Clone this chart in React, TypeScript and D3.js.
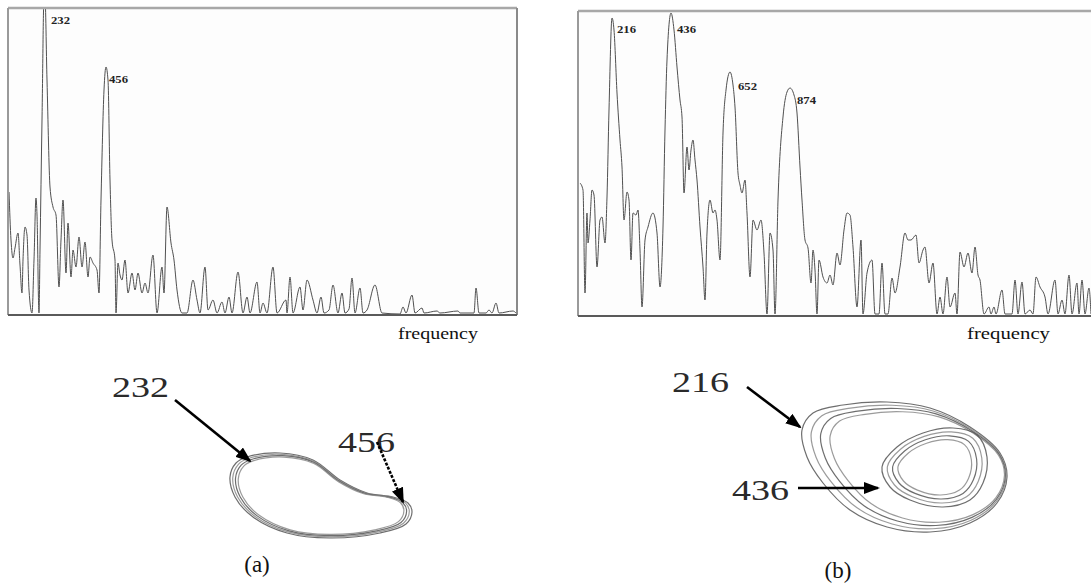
import React from 'react';
import * as d3 from 'd3';

// spectrum (a): [bin, amplitude]
const spectrumA: [number, number][] = [
  [0, 122], [2, 74], [4, 56], [6, 66], [9, 81], [11, 49], [13, 21], [14, 54], [16, 87], [18, 79],
  [20, 24], [23, 1], [25, 54], [27, 116], [28, 99], [30, 1], [31, 64], [33, 194], [35, 315], [36, 315],
  [38, 234], [41, 127], [44, 107], [47, 99], [50, 27], [52, 74], [54, 114], [57, 41], [59, 91], [62, 37],
  [64, 64], [67, 47], [70, 77], [73, 47], [76, 72], [79, 37], [81, 57], [84, 51], [88, 44], [90, 21],
  [92, 114], [95, 224], [97, 247], [99, 234], [101, 134], [103, 74], [106, 54], [107, 1], [109, 51], [111, 39],
  [113, 34], [116, 54], [119, 21], [123, 41], [126, 24], [129, 41], [133, 21], [136, 31], [139, 21], [144, 59],
  [148, 1], [153, 47], [155, 21], [158, 107], [162, 71], [165, 54], [168, 24], [173, 1], [178, 1], [184, 34],
  [188, 14], [191, 1], [196, 47], [199, 4], [204, 14], [208, 1], [213, 12], [216, 1], [220, 17], [223, 1],
  [229, 42], [234, 1], [238, 17], [241, 1], [248, 32], [251, 1], [254, 11], [258, 1], [264, 47], [268, 1],
  [277, 14], [278, 1], [281, 37], [284, 1], [291, 27], [294, 4], [298, 34], [304, 14], [308, 1], [312, 17],
  [315, 1], [320, 4], [324, 29], [329, 1], [333, 21], [336, 1], [340, 5], [343, 36], [346, 1], [351, 26],
  [354, 1], [358, 4], [366, 29], [373, 1], [391, 0], [394, 7], [397, 1], [403, 19], [406, 1], [413, 6],
  [415, 1], [428, 3], [431, 1], [449, 3], [451, 1], [465, 1], [467, 26], [470, 1], [477, 1], [480, 4],
  [483, 1], [487, 11], [490, 1], [504, 3], [507, 1],
];

// spectrum (b): [bin, amplitude]
const spectrumB: [number, number][] = [
  [1, 132], [4, 125], [6, 22], [8, 102], [9, 72], [11, 95], [13, 125], [15, 120], [18, 48], [21, 95],
  [23, 98], [26, 72], [28, 118], [30, 205], [33, 297], [35, 285], [38, 222], [41, 175], [43, 148], [45, 95],
  [48, 123], [50, 115], [52, 55], [54, 102], [57, 100], [59, 105], [61, 65], [63, 8], [66, 75], [69, 88],
  [74, 102], [78, 82], [81, 28], [84, 88], [86, 185], [88, 255], [92, 302], [95, 285], [98, 248], [101, 215],
  [103, 198], [105, 122], [108, 168], [110, 145], [112, 165], [114, 175], [116, 155], [118, 135], [121, 88], [124, 48],
  [126, 15], [128, 82], [131, 115], [134, 102], [136, 105], [138, 95], [141, 55], [144, 182], [147, 225], [151, 243],
  [154, 230], [156, 208], [159, 142], [161, 130], [163, 122], [166, 135], [168, 102], [171, 38], [174, 95], [178, 85],
  [182, 95], [185, 62], [188, 1], [191, 82], [194, 65], [196, 1], [199, 115], [204, 198], [208, 223], [211, 227],
  [215, 220], [218, 202], [221, 148], [223, 115], [226, 75], [229, 67], [232, 32], [234, 65], [236, 45], [238, 1],
  [240, 55], [244, 38], [248, 32], [251, 40], [254, 30], [258, 62], [261, 50], [265, 85], [268, 102], [271, 100],
  [274, 68], [278, 8], [282, 75], [284, 1], [288, 42], [293, 55], [296, 1], [300, 1], [303, 52], [306, 1],
  [309, 1], [313, 37], [316, 22], [321, 48], [326, 82], [329, 75], [332, 75], [337, 80], [340, 52], [344, 65],
  [346, 68], [350, 32], [354, 52], [358, 1], [361, 18], [364, 1], [368, 38], [371, 8], [376, 22], [378, 1],
  [381, 63], [385, 48], [389, 62], [393, 42], [396, 68], [399, 40], [401, 35], [405, 1], [410, 8], [412, 1],
  [415, 8], [417, 1], [423, 25], [426, 1], [433, 1], [436, 35], [439, 1], [443, 33], [446, 1], [451, 5],
  [454, 1], [457, 38], [461, 28], [466, 18], [469, 1], [476, 35], [479, 1], [483, 15], [486, 1], [490, 40],
  [493, 1], [498, 32], [500, 1], [503, 35], [506, 1], [510, 27], [512, 1],
];

// peak labels: text, bin, amplitude of label baseline
const peakLabelsA = ['232', '456'];
const peakBinsA = [42, 100];
const peakAmpsA = [290, 231];
const peakLabelsB = ['216', '436', '652', '874'];
const peakBinsB = [38, 98, 159, 218];
const peakAmpsB = [282, 282, 225, 211];

// phase portraits
const loopA: [number, number][] = [
  [-90, 18], [-84, 32], [-73, 38], [-40, 42], [-7, 35], [20, 15], [47, 2], [73, -2],
  [88, -8], [92, -17], [86, -29], [60, -38], [10, -43], [-33, -38], [-67, -22], [-85, -2],
];
const strandsA = [1, 0.97, 0.94, 0.91];
const loopBOuter: [number, number][] = [
  [-103, 37], [-92, 54], [-62, 62], [-18, 65], [25, 59], [65, 40], [95, 14], [102, -10],
  [92, -36], [65, -56], [25, -65], [-18, -60], [-55, -43], [-82, -16], [-98, 10],
];
const strandsBOuter = [1, 0.95, 0.9, 0.85];
const loopBInner: [number, number][] = [
  [-23, 0], [-8, 20], [18, 34], [48, 39], [72, 32], [82, 10], [78, -16], [65, -33],
  [38, -40], [5, -33], [-15, -20],
];
const strandsBInner = [1, 0.9, 0.8, 0.7];

// annotations: label, text start, arrow from, arrow to
const notesA = [
  { label: '232', at: [-208, 98], from: [-145, 95], to: [-70, 34], dash: '' },
  { label: '456', at: [18, 43], from: [57, 53], to: [83, -7], dash: '3,1.5' },
];
const notesB = [
  { label: '216', at: [-233, 75], from: [-158, 80], to: [-105, 40], dash: '' },
  { label: '436', at: [-173, -33], from: [-107, -21], to: [-27, -21], dash: '' },
];

const serif = '"Liberation Serif", "Times New Roman", serif';

function Spectrum({ data, x, y, labels, bins, amps, id, frame }) {
  const line = d3.line<[number, number]>().x(d => x(d[0])).y(d => y(d[1])).curve(d3.curveMonotoneX);
  const [x0, x1] = x.range();
  const [yb, yt] = y.range();
  return (
    <g>
      <clipPath id={id}>
        <rect x={x0 - 1} y={yt} width={x1 - x0 + 2} height={yb - yt + 1} />
      </clipPath>
      <rect x={frame[0]} y={frame[1]} width={frame[2] - frame[0]} height={frame[3] - frame[1]} fill="#fdfdfd" />
      <path d={line(data)} fill="none" stroke="#505050" strokeWidth={1} clipPath={`url(#${id})`} />
      <line x1={frame[0]} x2={frame[2]} y1={frame[1]} y2={frame[1]} stroke="#a8a8a8" strokeWidth={2.5} />
      <line x1={frame[0]} x2={frame[0]} y1={frame[1]} y2={frame[3]} stroke="#9a9a9a" strokeWidth={2} />
      <line x1={frame[2]} x2={frame[2]} y1={frame[1]} y2={frame[3]} stroke="#8a8a8a" strokeWidth={2} />
      <line x1={frame[0]} x2={frame[2]} y1={frame[3]} y2={frame[3]} stroke="#5a5a5a" strokeWidth={2} />
      {labels.map((t, i) => (
        <text key={t} x={x(bins[i])} y={y(amps[i])} fontFamily={serif} fontWeight="bold" fontSize={11}
          fill="#222" textLength={19} lengthAdjust="spacingAndGlyphs">{t}</text>
      ))}
    </g>
  );
}

function Portrait({ loops, x, y, notes, id }) {
  const line = d3.line<[number, number]>().x(d => x(d[0])).y(d => y(d[1])).curve(d3.curveCatmullRomClosed.alpha(0.5));
  return (
    <g>
      {loops.map((lp, j) =>
        lp.scales.map((s, i) => (
          <path key={`${j}-${i}`}
            d={line(lp.pts.map(p => [lp.anchor[0] + (p[0] - lp.anchor[0]) * s, lp.anchor[1] + (p[1] - lp.anchor[1]) * s] as [number, number]))}
            fill="none" stroke={i % 2 ? '#8a8a8a' : '#555'} strokeWidth={1.2} strokeOpacity={0.85} />
        ))
      )}
      {notes.map(n => (
        <g key={n.label}>
          <text x={x(n.at[0])} y={y(n.at[1])} fontFamily={serif} fontSize={29} fill="#2a2a2a"
            textLength={57} lengthAdjust="spacingAndGlyphs">{n.label}</text>
          <line x1={x(n.from[0])} y1={y(n.from[1])} x2={x(n.to[0])} y2={y(n.to[1])} stroke="#000"
            strokeWidth={2.6} strokeDasharray={n.dash || undefined} markerEnd={`url(#${id})`} />
        </g>
      ))}
    </g>
  );
}

export default function App() {
  const xA = d3.scaleLinear().domain([0, 507]).range([9, 516]);
  const yA = d3.scaleLinear().domain([0, 305]).range([314, 9]);
  const xB = d3.scaleLinear().domain([0, 512]).range([579, 1091]);
  const yB = d3.scaleLinear().domain([0, 303]).range([315, 12]);

  const pxA = d3.scaleLinear().domain([-100, 100]).range([220, 420]);
  const pyA = d3.scaleLinear().domain([-50, 50]).range([545, 445]);
  const pxB = d3.scaleLinear().domain([-110, 110]).range([795, 1015]);
  const pyB = d3.scaleLinear().domain([-70, 70]).range([537, 397]);

  return (
    <svg width={1091} height={586} style={{ position: 'absolute', left: 0, top: 0, background: '#fff' }}>
      <defs>
        <marker id="arrow" viewBox="0 0 16 12" refX={14} refY={6} markerWidth={16} markerHeight={12}
          orient="auto" markerUnits="userSpaceOnUse">
          <path d="M0,0 L16,6 L0,12 z" fill="#000" />
        </marker>
      </defs>
      <Spectrum data={spectrumA} x={xA} y={yA} labels={peakLabelsA} bins={peakBinsA} amps={peakAmpsA}
        id="clipA" frame={[8, 8, 517, 315]} />
      <Spectrum data={spectrumB} x={xB} y={yB} labels={peakLabelsB} bins={peakBinsB} amps={peakAmpsB}
        id="clipB" frame={[578, 11, 1100, 316]} />

      <text x={398} y={339} fontFamily={serif} fontSize={17} fill="#111" textLength={80} lengthAdjust="spacingAndGlyphs">frequency</text>
      <text x={967} y={339} fontFamily={serif} fontSize={17} fill="#111" textLength={83} lengthAdjust="spacingAndGlyphs">frequency</text>

      <Portrait x={pxA} y={pyA} id="arrow" notes={notesA}
        loops={[{ pts: loopA, scales: strandsA, anchor: [2, -3] }]} />
      <Portrait x={pxB} y={pyB} id="arrow" notes={notesB}
        loops={[
          { pts: loopBOuter, scales: strandsBOuter, anchor: [85, 0] },
          { pts: loopBInner, scales: strandsBInner, anchor: [30, 0] },
        ]} />

      <text x={257} y={572} textAnchor="middle" fontFamily={serif} fontSize={23} fill="#111">(a)</text>
      <text x={838} y={578} textAnchor="middle" fontFamily={serif} fontSize={23} fill="#111">(b)</text>
    </svg>
  );
}
